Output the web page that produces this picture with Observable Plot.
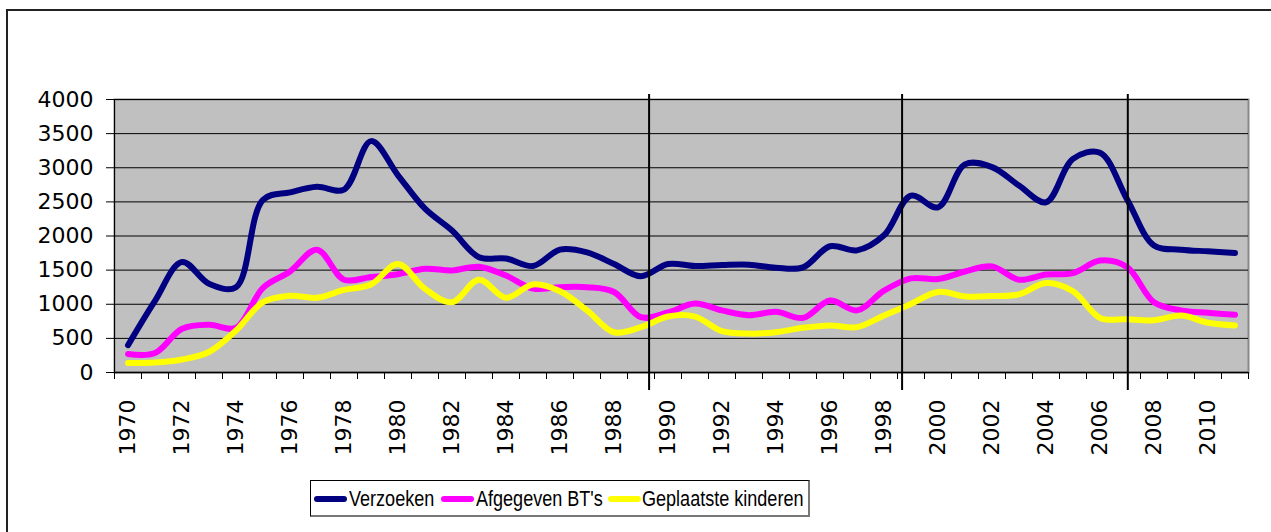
<!DOCTYPE html>
<html>
<head>
<meta charset="utf-8">
<script src="https://cdn.jsdelivr.net/npm/d3@7"></script>
<script src="https://cdn.jsdelivr.net/npm/@observablehq/plot@0.6"></script>
<style>
  html, body { margin: 0; padding: 0; background: #fff; }
  #wrap { position: relative; width: 1271px; height: 532px; overflow: hidden; }
  #outer { position: absolute; left: 6px; top: 9px; width: 1300px; height: 600px; border: 2px solid #222; box-sizing: border-box; }
  #chart { position: absolute; left: 0; top: 0; }
  #legend { position: absolute; left: 310px; top: 480px; width: 500px; height: 37px; box-sizing: border-box;
            border: 1px solid #000; border-right: 2px solid #777; border-bottom: 2px solid #777; background: #fff;
            font-family: "Liberation Sans", Arial, sans-serif; font-size: 22px; color: #000; }
  .sw { position: absolute; top: 15px; width: 33px; height: 6px; border-radius: 3px; }
  .lab { position: absolute; top: 5px; line-height: 26px; white-space: nowrap; transform: scaleX(0.82); transform-origin: 0 50%; }
</style>
</head>
<body>
<div id="wrap">
  <div id="outer"></div>
  <div id="chart"></div>
  <div id="legend"></div>
</div>
<script>
const years = d3.range(1970, 2012);
const seriesNames = ["Verzoeken", "Afgegeven BT's", "Geplaatste kinderen"];
const seriesColors = ["#000080", "#ff00ff", "#ffff00"];
const verzoeken = [400, 1050, 1620, 1300, 1250, 2530, 2640, 2720, 2680, 3390, 2890, 2400, 2080, 1690, 1670, 1560, 1800, 1760, 1590, 1410, 1590, 1560, 1575, 1580, 1535, 1540, 1850, 1790, 2010, 2590, 2420, 3050, 3010, 2740, 2495, 3130, 3220, 2540, 1860, 1800, 1775, 1750];
const afgegeven = [270, 285, 640, 700, 655, 1240, 1480, 1800, 1360, 1400, 1440, 1520, 1495, 1550, 1420, 1230, 1250, 1250, 1180, 810, 880, 1010, 910, 840, 890, 800, 1055, 910, 1200, 1380, 1370, 1480, 1555, 1360, 1435, 1455, 1640, 1545, 1030, 910, 875, 845];
const geplaatst = [140, 145, 190, 300, 615, 1030, 1125, 1095, 1210, 1290, 1590, 1225, 1030, 1360, 1095, 1290, 1190, 910, 590, 665, 820, 820, 605, 570, 590, 655, 690, 665, 835, 1005, 1180, 1115, 1120, 1145, 1310, 1190, 800, 780, 765, 835, 730, 690];
const yTicks = [0, 500, 1000, 1500, 2000, 2500, 3000, 3500, 4000];
const yearLabels = d3.range(1970, 2011, 2);
const separators = [1989.3, 1998.67, 2007.03];
// legend layout (px offsets inside the legend box)
const legendSwatchLeft = [3, 130, 297];
const legendTextLeft = [38, 165, 331];

const allSeries = [verzoeken, afgegeven, geplaatst];
const data = [];
allSeries.forEach((vals, s) => vals.forEach((v, i) => data.push({year: years[i], value: v, series: seriesNames[s]})));
const boundaries = d3.range(years[0] - 0.5, years[years.length - 1] + 1, 1);
const xDomain = [years[0] - 0.5, years[years.length - 1] + 0.5];

const chart = Plot.plot({
  width: 1271,
  height: 470,
  marginLeft: 114,
  marginRight: 23,
  marginTop: 99,
  marginBottom: 98,
  style: {fontFamily: "DejaVu Sans, Verdana, sans-serif", fontSize: "22px", color: "#000", background: "transparent"},
  x: {domain: xDomain},
  y: {domain: [0, 4000]},
  color: {domain: seriesNames, range: seriesColors},
  marks: [
    Plot.frame({fill: "#c0c0c0", stroke: "#888", strokeWidth: 2}),
    Plot.gridY(yTicks, {stroke: "#000", strokeOpacity: 1, strokeWidth: 1}),
    Plot.ruleY([0], {stroke: "#000", strokeWidth: 1.5}),
    Plot.ruleX([xDomain[0]], {stroke: "#000", strokeWidth: 1}),
    Plot.line(data, {x: "year", y: "value", z: "series", stroke: "series", strokeWidth: 6,
      curve: "catmull-rom", strokeLinecap: "round", strokeLinejoin: "round"}),
    Plot.ruleX(separators, {stroke: "#000", strokeWidth: 2, insetTop: -5, insetBottom: -18}),
    Plot.axisY({ticks: yTicks, tickSize: 8, tickPadding: 13, fontSize: 22, label: null, stroke: "#000", tickFormat: d => String(d)}),
    Plot.axisX({ticks: boundaries, tickSize: 7, tickFormat: () => "", label: null, stroke: "#000"}),
    Plot.axisX({ticks: yearLabels, tickSize: 0, tickPadding: 27, tickRotate: -90, tickFormat: d => String(d), fontSize: 22, label: null})
  ]
});
document.getElementById("chart").appendChild(chart);

const legend = document.getElementById("legend");
seriesNames.forEach((name, i) => {
  const sw = document.createElement("div");
  sw.className = "sw";
  sw.style.background = seriesColors[i];
  sw.style.left = legendSwatchLeft[i] + "px";
  const lab = document.createElement("span");
  lab.className = "lab";
  lab.style.left = legendTextLeft[i] + "px";
  lab.textContent = name;
  legend.appendChild(sw);
  legend.appendChild(lab);
});
</script>
</body>
</html>
